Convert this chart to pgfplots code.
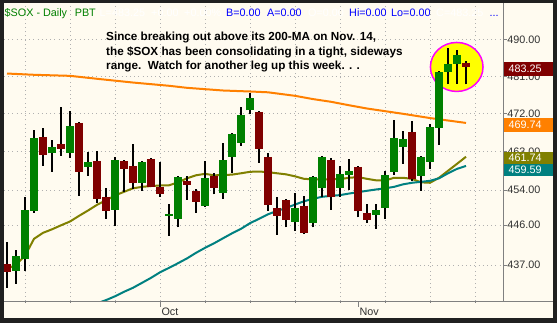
\documentclass[border=0pt]{standalone}
\usepackage{pgfplots}
\usepackage{pgfplotstable}
\pgfplotsset{compat=1.18}
\usepackage{fontspec}
\setmainfont{Liberation Sans}
\definecolor{bgc}{HTML}{FFFBF0}
\definecolor{framec}{HTML}{202020}
\definecolor{upc}{HTML}{008000}
\definecolor{dnc}{HTML}{800000}
\definecolor{orc}{HTML}{FF8000}
\definecolor{olc}{HTML}{808000}
\definecolor{tec}{HTML}{008080}
\definecolor{gridc}{HTML}{B0B0B0}
\definecolor{axc}{HTML}{808080}
\definecolor{labc}{HTML}{303030}
\definecolor{hdblue}{HTML}{0000FF}
\definecolor{magc}{HTML}{FF00FF}
\definecolor{yelc}{HTML}{FFFF00}
\newcommand{\sz}{\fontsize{10.8bp}{13bp}\selectfont}
\newcommand{\bsz}{\fontsize{11.72bp}{14bp}\selectfont\bfseries}

\pgfplotstableread{
i open high low close
0 437.28 442.13 432.05 435.57
1 435.80 440.41 432.86 439.07
2 438.46 452.43 435.73 449.45
3 449.29 468.10 448.83 466.20
4 466.43 468.58 459.61 462.26
5 462.49 465.72 458.28 464.07
6 464.78 473.60 462.02 463.60
7 462.73 472.64 461.55 469.05
8 469.77 469.90 452.66 458.28
9 459.45 462.89 457.35 460.54
10 460.78 463.13 451.05 452.04
11 452.43 454.50 447.47 449.29
12 449.52 461.64 445.66 461.01
13 460.78 460.90 453.65 458.98
14 459.61 464.78 454.27 455.73
15 455.73 460.78 453.88 460.54
16 461.25 461.48 454.60 454.80
17 454.80 460.54 452.50 453.19
18 448.15 450.82 443.62 448.54
19 447.47 457.28 445.43 457.05
20 456.12 457.28 451.81 455.20
21 453.81 454.27 448.83 451.35
22 450.43 460.78 450.20 456.82
23 457.28 457.98 452.96 454.57
24 453.42 465.01 452.04 461.01
25 461.78 467.39 458.05 467.15
26 465.08 473.60 464.37 471.68
27 472.71 476.98 471.76 475.77
28 472.40 472.50 460.38 463.67
29 461.72 462.66 449.29 450.66
30 449.98 452.50 443.85 448.15
31 451.74 451.90 445.43 447.24
32 446.79 453.42 444.75 449.98
33 450.43 452.73 444.07 444.30
34 446.56 457.30 445.43 457.12
35 454.57 461.90 452.50 461.72
36 461.08 461.55 449.52 452.50
37 454.57 459.68 452.50 457.75
38 457.52 461.32 454.11 458.45
39 459.38 459.61 447.70 449.29
40 448.77 450.89 446.56 447.24
41 448.38 450.89 445.20 449.45
42 449.98 458.45 447.47 457.52
43 458.22 470.48 457.52 466.20
44 464.14 467.86 460.08 465.96
45 467.62 470.24 455.96 456.58
46 457.28 461.90 453.81 461.72
47 460.54 469.53 458.98 468.81
48 468.58 482.40 464.54 482.17
49 482.17 488.02 479.24 484.14
50 484.14 487.52 479.24 486.28
51 484.38 484.63 479.00 483.25
}\candletab

\pgfplotstableread{
i v
0 481.68
3 481.37
7 481.12
10 480.39
14 479.48
18 478.68
20 478.20
24 477.54
27 477.30
29 477.10
32 476.26
34 475.46
36 474.81
38 473.97
40 473.19
44 471.92
47 470.89
51 469.74
}\maorange

\pgfplotstableread{
i v
0 436.17
1 437.06
2 439.07
3 442.88
4 444.23
5 445.02
6 445.93
7 446.79
8 448.08
9 449.29
10 450.59
11 451.63
12 452.73
13 453.58
14 454.39
15 454.73
16 454.92
17 455.04
18 455.08
19 455.77
20 456.70
21 457.40
22 457.75
23 457.40
24 457.45
25 457.56
26 457.87
27 458.22
28 458.28
29 458.14
30 457.87
31 457.63
32 457.17
33 456.58
34 456.47
35 456.40
36 456.47
37 456.51
38 456.82
39 456.98
40 456.58
41 456.24
42 456.19
43 456.82
44 456.82
45 456.58
46 455.77
47 455.66
48 456.82
49 458.45
50 460.08
51 461.74
}\maolive

\pgfplotstableread{
i v
10 428.60
11 429.30
12 430.13
13 431.11
14 431.99
15 433.08
16 434.18
17 435.40
18 436.39
19 437.42
20 438.50
21 439.74
22 440.86
23 441.87
24 443.00
25 444.12
26 445.13
27 446.42
28 447.40
29 448.42
30 449.22
31 449.84
32 450.66
33 451.40
34 451.97
35 452.43
36 452.66
37 452.82
38 453.19
39 453.51
40 453.81
41 454.11
42 454.39
43 454.73
44 455.31
45 455.66
46 455.89
47 456.12
48 456.70
49 457.87
50 458.91
51 459.59
}\mateal

\begin{document}
\begin{tikzpicture}[x=1bp,y=1bp]
\fill[framec] (0,0) rectangle (557,323);
\fill[bgc] (4,5) rectangle (553,319.5);
\begin{axis}[
  at={(4bp,22bp)}, anchor=south west,
  width=499.7bp, height=297bp, scale only axis,
  xmin=-0.3333, xmax=55.189,
  ymode=log, ymin=429.14, ymax=499.05,
  axis line style={draw=none},
  xtick={2,7,...,52}, xticklabels={},
  ytick={437,446,454,463,472,481,490},
  yticklabels={437.00,446.00,454.00,463.00,472.00,481.00,490.00},
  ytick pos=right, xtick pos=left,
  tick align=outside,
  major tick length=3bp,
  xtick style={/pgfplots/major tick length=2bp},
  tick style={axc, line width=0.8bp},
  xmajorgrids, ymajorgrids,
  grid style={gridc, line width=0.9bp, dash pattern=on 0.9bp off 3.3bp},
  yticklabel style={font=\sz, text=labc, anchor=west, inner xsep=0.5bp},
  unbounded coords=jump,
]
\draw[line width=1.5bp, draw=magc, fill=yelc] (axis cs:49.97,483.3) ellipse [x radius=26.3bp, y radius=24.5bp];
\addplot[orc, line width=2bp] table[x=i,y=v]{\maorange};
\addplot[olc, line width=2bp] table[x=i,y=v]{\maolive};
\addplot[tec, line width=2bp] table[x=i,y=v]{\mateal};
\pgfplotstablegetrowsof{\candletab}
\pgfmathtruncatemacro{\lastrow}{\pgfplotsretval-1}
\pgfplotsforeachungrouped \k in {0,...,\lastrow}{%
  \pgfplotstablegetelem{\k}{i}\of\candletab \let\ci\pgfplotsretval
  \pgfplotstablegetelem{\k}{open}\of\candletab \let\co\pgfplotsretval
  \pgfplotstablegetelem{\k}{high}\of\candletab \let\ch\pgfplotsretval
  \pgfplotstablegetelem{\k}{low}\of\candletab \let\cl\pgfplotsretval
  \pgfplotstablegetelem{\k}{close}\of\candletab \let\cc\pgfplotsretval
  \ifdim\cc pt>\co pt \def\cbody{upc}\else\def\cbody{dnc}\fi
  \edef\temp{\noexpand\addplot[black, line width=2bp, forget plot] coordinates {(\ci,\cl) (\ci,\ch)};
    \noexpand\addplot[\cbody, line width=8bp, forget plot] coordinates {(\ci,\co) (\ci,\cc)};}%
  \temp
}
\end{axis}
% axis lines
\draw[axc, line width=1bp] (4,22) -- (553,22);
\draw[axc, line width=1bp] (503.7,22) -- (503.7,319.5);
% month ticks and labels
\draw[axc, line width=0.8bp] (160,22) -- (160,16);
\draw[axc, line width=0.8bp] (358,22) -- (358,16);
\node[anchor=base west, inner sep=0, font=\sz, text=labc] at (161.3,8) {Oct};
\node[anchor=base west, inner sep=0, font=\sz, text=labc] at (359.3,8) {Nov};
% header
\node[anchor=base west, inner sep=0, font=\sz, text=upc] at (4.5,306.7) {\$SOX - Daily};
\node[anchor=base west, inner sep=0, font=\sz, text=upc] at (74.6,306.7) {PBT};
\node[anchor=base west, inner sep=0, font=\sz, text=white] at (99.5,306.7) {L=483.25};
\node[anchor=base west, inner sep=0, font=\sz, text=white] at (151,306.7) {+0.00};
\node[anchor=base west, inner sep=0, font=\sz, text=white] at (184,306.7) {+0.00\%};
\node[anchor=base west, inner sep=0, font=\sz, text=hdblue] at (226,306.7) {B=0.00};
\node[anchor=base west, inner sep=0, font=\sz, text=hdblue] at (267,306.7) {A=0.00};
\node[anchor=base west, inner sep=0, font=\sz, text=white] at (308,306.7) {O=0.00};
\node[anchor=base west, inner sep=0, font=\sz, text=hdblue] at (349,306.7) {Hi=0.00};
\node[anchor=base west, inner sep=0, font=\sz, text=hdblue] at (391,306.7) {Lo=0.00};
\node[anchor=base west, inner sep=0, font=\sz, text=white] at (436,306.7) {C=483.25};
\node[anchor=base west, inner sep=0, font=\sz, text=hdblue] at (489.5,306.7) {...};
% annotation
\node[anchor=base west, inner sep=0, font=\bsz] at (106,282.3) {Since breaking out above its 200-MA on Nov. 14,};
\node[anchor=base west, inner sep=0, font=\bsz] at (106,267.3) {the \$SOX has been consolidating in a tight, sideways};
\node[anchor=base west, inner sep=0, font=\bsz] at (106,253.3) {range.\ \ Watch for another leg up this week. . .};
% value boxes
\fill[dnc] (504,247.5) rectangle (553,261);
\node[anchor=west, inner sep=0, font=\sz, text=white] at (508.5,254.2) {483.25};
\fill[orc] (504,191.3) rectangle (553,204.7);
\node[anchor=west, inner sep=0, font=\sz, text=white] at (508.5,198) {469.74};
\fill[tec] (504,147.5) rectangle (553,159);
\node[anchor=west, inner sep=0, font=\sz, text=white] at (508.5,153.4) {459.59};
\fill[olc] (504,159) rectangle (553,171.3);
\node[anchor=west, inner sep=0, font=\sz, text=white] at (508.5,165.1) {461.74};
\end{tikzpicture}
\end{document}
